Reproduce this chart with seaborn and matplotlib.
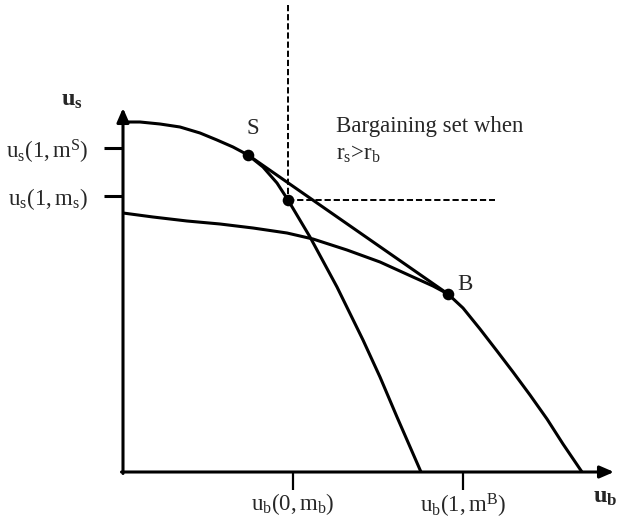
import matplotlib
matplotlib.use("Agg")
import matplotlib.pyplot as plt
import seaborn as sns
import pandas as pd

# ---- data (axis units: origin at the axes corner) ----
seller_u_b = [1, 17, 37, 57, 77, 94, 110, 125, 140, 154, 165, 187, 214, 240, 257, 274, 298]
seller_u_s = [350, 350, 348, 345, 339, 332, 325, 317, 305, 289, 272, 235, 185, 132, 95, 55, 0]

buyer_u_b = [0, 30, 64, 97, 130, 164, 190, 224, 257, 290, 310, 325, 340, 357, 374, 390, 407, 424, 440, 459]
buyer_u_s = [259, 255, 251, 248, 244, 239, 233, 222, 210, 195, 186, 178, 164, 143, 121, 100, 77, 53, 28, 0]

tangent_u_b = [125, 325]
tangent_u_s = [317, 178]

point_names = ["S", "M", "B"]
point_u_b = [125, 165, 325]
point_u_s = [317, 272, 178]

dash_v_u_b = [165, 165]
dash_v_u_s = [467, 272]
dash_h_u_b = [165, 372]
dash_h_u_s = [272, 272]

ytick_vals = [324, 276]
ytick_labels = [r"$\mathrm{u_s(1,m^S)}$", r"$\mathrm{u_s(1,m_s)}$"]
xtick_vals = [170, 340]
xtick_labels = [r"$\mathrm{u_b(0,m_b)}$", r"$\mathrm{u_b(1,m^B)}$"]

# ---- style ----
sns.set_theme(style="white")
plt.rcParams["font.family"] = ["Liberation Serif", "DejaVu Serif"]
plt.rcParams["mathtext.fontset"] = "custom"
plt.rcParams["mathtext.rm"] = "Liberation Serif"
plt.rcParams["mathtext.it"] = "Liberation Serif:italic"
plt.rcParams["mathtext.bf"] = "Liberation Serif:bold"

FS = 16.5
LW = 2.2

fig = plt.figure(figsize=(6.17, 5.22), dpi=100)
ax = fig.add_axes([0, 0, 1, 1])
ax.set_xlim(-123, 494)
ax.set_ylim(-50, 472)
ax.set_facecolor("white")

seller = pd.DataFrame({"u_b": seller_u_b, "u_s": seller_u_s})
buyer = pd.DataFrame({"u_b": buyer_u_b, "u_s": buyer_u_s})
tangent = pd.DataFrame({"u_b": tangent_u_b, "u_s": tangent_u_s})
points = pd.DataFrame({"name": point_names, "u_b": point_u_b, "u_s": point_u_s})

for df in (seller, buyer, tangent):
    sns.lineplot(data=df, x="u_b", y="u_s", sort=False, estimator=None,
                 color="black", lw=LW, ax=ax, solid_capstyle="butt",
                 solid_joinstyle="round")

dash = (0, (3.2, 1.5))
sns.lineplot(x=dash_v_u_b, y=dash_v_u_s, sort=False, estimator=None,
             color="black", lw=1.4, linestyle=dash, ax=ax)
sns.lineplot(x=dash_h_u_b, y=dash_h_u_s, sort=False, estimator=None,
             color="black", lw=1.4, linestyle=dash, ax=ax)

sns.scatterplot(data=points, x="u_b", y="u_s", color="black", s=70,
                edgecolor="black", linewidth=0, zorder=5, ax=ax)

# ---- axes with arrows ----
for side in ["top", "right", "left", "bottom"]:
    ax.spines[side].set_visible(False)
ax.spines["left"].set_position(("data", 0))
ax.spines["bottom"].set_position(("data", 0))

arrow = dict(arrowstyle="-|>,head_length=0.6,head_width=0.26", lw=LW,
             color="black", mutation_scale=14, shrinkA=0, shrinkB=0)
ax.annotate("", xy=(0, 364), xytext=(0, -1.5), arrowprops=arrow)
ax.annotate("", xy=(491, 0), xytext=(-1.5, 0), arrowprops=arrow)

ax.set_yticks(ytick_vals, labels=ytick_labels)
ax.set_xticks(xtick_vals, labels=xtick_labels)
ax.tick_params(axis="y", direction="out", length=14, width=LW, pad=11,
               labelsize=FS, left=True, color="black")
ax.tick_params(axis="x", direction="out", length=13, width=1.6, pad=1,
               labelsize=FS, bottom=True, color="black")
ax.set_xlabel("")
ax.set_ylabel("")

# ---- text ----
ax.text(-51, 371, r"$\mathbf{u}_{\mathbf{s}}$", fontsize=FS + 1, ha="center", va="center")
ax.text(482, -26, r"$\mathbf{u}_{\mathbf{b}}$", fontsize=FS + 1, ha="center", va="center")
ax.text(130, 343, "S", fontsize=FS, ha="center", va="center")
ax.text(342, 188, "B", fontsize=FS, ha="center", va="center")
ax.text(213, 340, "Bargaining set when", fontsize=FS, ha="left", va="baseline")
ax.text(213, 312, r"$\mathrm{r_s}$>$\mathrm{r_b}$", fontsize=FS, ha="left", va="baseline")

fig.savefig("out.png", dpi=100, facecolor="white")
